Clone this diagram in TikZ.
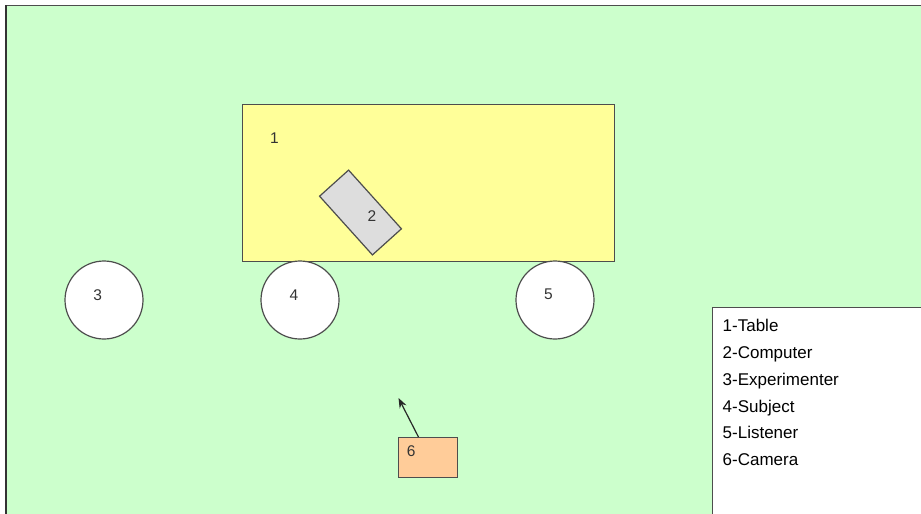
\documentclass[tikz,border=0pt]{standalone}
\usepackage{fontspec}
\setmainfont{Liberation Sans}
\usetikzlibrary{calc,arrows.meta}
\definecolor{bggreen}{HTML}{CCFFCC}
\definecolor{tableyellow}{HTML}{FFFF99}
\definecolor{compgray}{HTML}{DDDDDD}
\definecolor{camorange}{HTML}{FFCC99}
\definecolor{edgegray}{HTML}{4D4D4D}
\definecolor{labelgray}{HTML}{333333}
\tikzset{
  shapeline/.style={draw=edgegray, line width=1.2pt},
  person/.style={shapeline, circle, fill=white, minimum size=78pt, inner sep=0pt},
  numlabel/.style={text=labelgray, font=\fontsize{15.5}{18}\selectfont, inner sep=0pt},
  legendtext/.style={anchor=base west, inner sep=0pt, font=\fontsize{17}{20}\selectfont, text=black},
}
\begin{document}
\begin{tikzpicture}[x=1pt,y=-1pt]
\useasboundingbox (0,0) rectangle (921,514);
\fill[white] (0,0) rectangle (921,514);
% room
\fill[bggreen] (6,5) rectangle (925,520);
\draw[edgegray, line width=1pt] (6,5) -- (925,5);
\draw[black!80, line width=2.2pt] (6,5) -- (6,520);
% table
\node[shapeline, fill=tableyellow, anchor=north west, minimum width=372pt, minimum height=157pt, inner sep=0pt] (table) at (242,104) {};
\node[numlabel] (l1) at (274.5,138) {1};
% computer
\node[shapeline, fill=compgray, minimum width=79pt, minimum height=39pt, inner sep=0pt, rotate=-48] (computer) at (360.5,212.5) {};
\node[numlabel] (l2) at (372,216.5) {2};
% people
\node[person] (experimenter) at (104,300) {};
\node[numlabel] (l3) at (97.8,295) {3};
\node[person] (subject) at (300,300) {};
\node[numlabel] (l4) at (294,295) {4};
\node[person] (listener) at (555,300) {};
\node[numlabel] (l5) at (548.5,294.5) {5};
% camera
\node[shapeline, fill=camorange, anchor=north west, minimum width=59pt, minimum height=40pt, inner sep=0pt] (camera) at (398,437) {};
\node[numlabel] (l6) at (411.3,451) {6};
\coordinate (view) at (398.5,398);
\draw[draw=black!85, line width=1.2pt, -{Stealth[length=10pt,width=7.5pt]}] ($(camera.north west)!0.34!(camera.north east)$) -- (view);
% legend
\node[shapeline, fill=white, anchor=north west, minimum width=220pt, minimum height=215pt, inner sep=0pt] (legend) at (711.5,307) {};
\node[legendtext] (k1) at (722.5,331.7) {1-Table};
\node[legendtext] (k2) at (722.5,358.5) {2-Computer};
\node[legendtext] (k3) at (722.5,385.3) {3-Experimenter};
\node[legendtext] (k4) at (722.5,412.1) {4-Subject};
\node[legendtext] (k5) at (722.5,438.9) {5-Listener};
\node[legendtext] (k6) at (722.5,465.7) {6-Camera};
\end{tikzpicture}
\end{document}
